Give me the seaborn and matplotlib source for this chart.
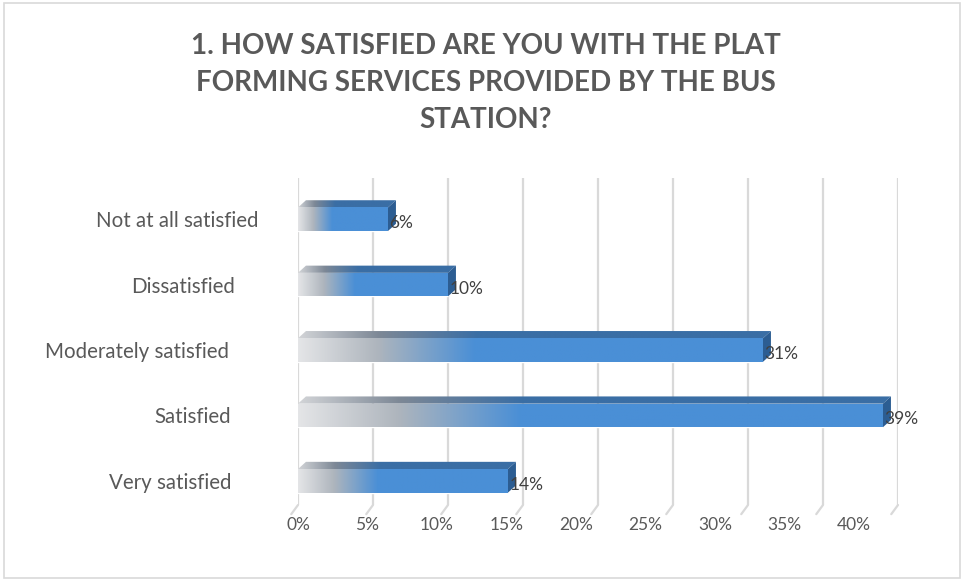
import matplotlib
matplotlib.use("Agg")
import matplotlib.pyplot as plt
import matplotlib.transforms as mtransforms
from matplotlib.patches import Polygon, Rectangle
from matplotlib.colors import LinearSegmentedColormap
import numpy as np
import pandas as pd
import seaborn as sns

# Survey answers and their shares (percent)
categories = ["Not at all satisfied", "Dissatisfied", "Moderately satisfied",
              "Satisfied", "Very satisfied"]
shares = [6, 10, 31, 39, 14]
value_labels = ["6%", "10%", "31%", "39%", "14%"]
tick_values = [0, 5, 10, 15, 20, 25, 30, 35, 40]
tick_labels = ["0%", "5%", "10%", "15%", "20%", "25%", "30%", "35%", "40%"]
title = ("1. HOW SATISFIED ARE YOU WITH THE PLAT\n"
         "FORMING SERVICES PROVIDED BY THE BUS\n"
         "STATION?")

sns.set_theme(style="white")
plt.rcParams["font.family"] = ["Lato", "DejaVu Sans"]

TEXT = "#595959"
BLUE = "#4a8fd6"
GRID = "#d9d9d9"

fig = plt.figure(figsize=(9.64, 5.81), dpi=100)
ax = fig.add_axes([298 / 964, 1 - 505 / 581, 600 / 964, 327 / 581])

df = pd.DataFrame({"category": categories, "share": shares})
sns.barplot(data=df, x="share", y="category", orient="h", color=BLUE,
            saturation=1, width=0.36, ax=ax, zorder=1)

ax.set_xticks(tick_values)
ax.set_xticklabels(tick_labels)
ax.set_yticks(range(len(categories)))
ax.set_yticklabels(categories)
ax.set_xlabel("")
ax.set_ylabel("")
ax.grid(axis="x", color=GRID, lw=1.6)
ax.grid(axis="y", visible=False)
ax.set_axisbelow(True)
sns.despine(ax=ax, left=True, bottom=True)

ax.tick_params(axis="y", length=0, pad=48, labelsize=14.8, labelcolor=TEXT)
ax.tick_params(axis="x", length=0, pad=9, labelsize=12.5, labelcolor=TEXT)

# perspective shift of the tick labels
for k, lab in enumerate(ax.get_xticklabels()):
    lab.set_transform(lab.get_transform() +
                      mtransforms.ScaledTranslation(-5.5 * k / 100, 0, fig.dpi_scale_trans))
for lab, dx in zip(ax.get_yticklabels(), [27, 4, -2, 0, 0]):
    lab.set_transform(lab.get_transform() +
                      mtransforms.ScaledTranslation(dx / 100, 0, fig.dpi_scale_trans))

# little floor feet at the bottom of each gridline
feet = mtransforms.blended_transform_factory(ax.transData, ax.transAxes)
for t in tick_values:
    ax.plot([t, t - 0.45], [0.0, -0.028], color=GRID, lw=1.6, transform=feet,
            clip_on=False, zorder=0.5, solid_capstyle="round")

front_cmap = LinearSegmentedColormap.from_list(
    "front", [(0, "#e4e5e7"), (0.17, "#aeb5bd"), (0.38, BLUE), (1, BLUE)])
top_cmap = LinearSegmentedColormap.from_list(
    "top", [(0, "#d2d4d7"), (0.17, "#7d8896"), (0.38, "#3a6ea5"), (1, "#3a6ea5")])
grad = np.linspace(0, 1, 256).reshape(1, -1)

depth_x = 0.53   # depth of the 3D extrusion along x (data units)
depth_y = 0.11   # depth of the 3D extrusion along y (data units)

for bar, label, share in zip(ax.patches, value_labels, shares):
    x0, y0 = bar.get_x(), bar.get_y()
    w, h = bar.get_width(), bar.get_height()
    top, bottom = y0, y0 + h  # y axis is inverted: y0 is the upper edge

    # gradient on the front face
    im = ax.imshow(grad, cmap=front_cmap, aspect="auto",
                   extent=(x0, x0 + w, bottom, top), zorder=2, interpolation="bilinear")
    im.set_clip_path(bar)

    # top face
    top_face = Polygon([(x0, top), (x0 + w, top), (x0 + w + depth_x, top - depth_y),
                        (x0 + depth_x, top - depth_y)], closed=True,
                       facecolor="none", edgecolor="none", zorder=2)
    ax.add_patch(top_face)
    im_top = ax.imshow(grad, cmap=top_cmap, aspect="auto",
                       extent=(x0, x0 + w + depth_x, top, top - depth_y),
                       zorder=2, interpolation="bilinear")
    im_top.set_clip_path(top_face)

    # end face
    side = Polygon([(x0 + w, bottom), (x0 + w, top), (x0 + w + depth_x, top - depth_y),
                    (x0 + w + depth_x, bottom - depth_y)], closed=True,
                   facecolor="#2c5d92", edgecolor="none", zorder=2.1)
    ax.add_patch(side)

    ax.text(share + 0.1, (top + bottom) / 2 + 0.06, label, ha="left", va="center",
            fontsize=12.5, color="#404040", zorder=3)

ax.set_xlim(0, 40)
ax.set_ylim(4.37, -0.63)

fig.text(486 / 964, 1 - 33 / 581, title, ha="center", va="top", fontsize=20,
         fontweight="bold", color=TEXT, linespacing=1.52)

fig.add_artist(Rectangle((0.004, 0.006), 0.992, 0.988, transform=fig.transFigure,
                         fill=False, edgecolor=GRID, lw=1.2))

fig.savefig("out.png", dpi=100)
